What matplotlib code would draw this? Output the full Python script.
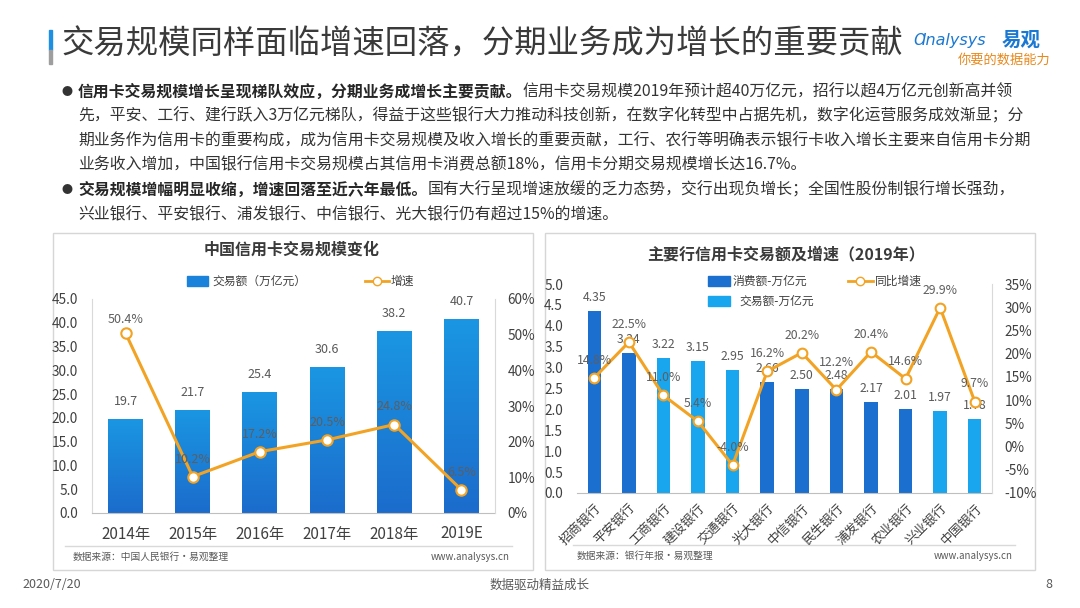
import matplotlib
matplotlib.use("Agg")
import matplotlib.pyplot as plt
import numpy as np
from matplotlib.patches import Rectangle
from matplotlib.lines import Line2D
from matplotlib.colors import LinearSegmentedColormap
from matplotlib.ticker import FuncFormatter

plt.rcParams['font.family'] = ['Noto Sans CJK SC', 'DejaVu Sans']

# ---------------- data ----------------
years = ['2014年', '2015年', '2016年', '2017年', '2018年', '2019E']
volume = [19.7, 21.7, 25.4, 30.6, 38.2, 40.7]          # 万亿元
growth = [50.4, 10.2, 17.2, 20.5, 24.8, 6.5]           # %

banks = ['招商银行', '平安银行', '工商银行', '建设银行', '交通银行', '光大银行',
         '中信银行', '民生银行', '浦发银行', '农业银行', '兴业银行', '中国银行']
amount = [4.35, 3.34, 3.22, 3.15, 2.95, 2.66, 2.50, 2.48, 2.17, 2.01, 1.97, 1.78]
amount_kind = ['消费额', '消费额', '交易额', '交易额', '交易额', '消费额',
               '消费额', '消费额', '消费额', '消费额', '交易额', '交易额']
yoy = [14.8, 22.5, 11.0, 5.4, -4.0, 16.2, 20.2, 12.2, 20.4, 14.6, 29.9, 9.7]

left_yticks = [0, 5, 10, 15, 20, 25, 30, 35, 40, 45]
left_y2ticks = [0, 10, 20, 30, 40, 50, 60]
right_yticks = [0, 0.5, 1.0, 1.5, 2.0, 2.5, 3.0, 3.5, 4.0, 4.5, 5.0]
right_y2ticks = [-10, -5, 0, 5, 10, 15, 20, 25, 30, 35]

# ---------------- style ----------------
W, H = 1080, 608
DARK = '#1B6FCF'
LIGHT = '#1AA6EE'
ORANGE = '#F2A324'
TXT = '#404040'
LBL = '#595959'
GRID = '#D9D9D9'


def fx(px):
    return px / W


def fy(py):
    return 1 - py / H


fig = plt.figure(figsize=(W / 100, H / 100), dpi=100)
fig.patch.set_facecolor('white')

# ---------------- panels (behind everything) ----------------
for (l, t_, r, b) in [(53, 233, 533, 570), (545, 233, 1035, 570)]:
    fig.patches.append(Rectangle((fx(l), fy(b)), fx(r - l), (b - t_) / H,
                                 transform=fig.transFigure, facecolor='none',
                                 edgecolor='#D6D6D6', lw=1.0, zorder=-10))

# ---------------- header ----------------
fig.patches.append(Rectangle((fx(49), fy(50)), fx(3), 20 / H, transform=fig.transFigure,
                             color='#1E8FE1', zorder=5))
fig.patches.append(Rectangle((fx(49), fy(64)), fx(3), 14 / H, transform=fig.transFigure,
                             color='#9E9E9E', zorder=5))
fig.text(fx(61), fy(45), '交易规模同样面临增速回落，分期业务成为增长的重要贡献',
         fontsize=23.3, color='#3A3A3A', va='center', ha='left')
fig.text(fx(914), fy(40), 'Ɑnalysys', fontsize=11.5, color='#1A78D2', style='italic',
         va='center', ha='left', family=['DejaVu Sans'])
fig.text(fx(1002), fy(40), '易观', fontsize=14, color='#1A78D2', fontweight='bold',
         va='center', ha='left')
fig.text(fx(958), fy(60), '你要的数据能力', fontsize=9.5, color='#E8891C', style='italic',
         va='center', ha='left')

# ---------------- body text ----------------
renderer = fig.canvas.get_renderer()
BODY_FS = 11.4
body_lines = [
    ('信用卡交易规模增长呈现梯队效应，分期业务成增长主要贡献。',
     '信用卡交易规模2019年预计超40万亿元，招行以超4万亿元创新高并领', True),
    ('', '先，平安、工行、建行跃入3万亿元梯队，得益于这些银行大力推动科技创新，在数字化转型中占据先机，数字化运营服务成效渐显；分', False),
    ('', '期业务作为信用卡的重要构成，成为信用卡交易规模及收入增长的重要贡献，工行、农行等明确表示银行卡收入增长主要来自信用卡分期', False),
    ('', '业务收入增加，中国银行信用卡交易规模占其信用卡消费总额18%，信用卡分期交易规模增长达16.7%。', False),
    ('交易规模增幅明显收缩，增速回落至近六年最低。',
     '国有大行呈现增速放缓的乏力态势，交行出现负增长；全国性股份制银行增长强劲，', True),
    ('', '兴业银行、平安银行、浦发银行、中信银行、光大银行仍有超过15%的增速。', False),
]
line_y = [92, 116, 141, 165, 190, 215]
for (bold, reg, bullet), py in zip(body_lines, line_y):
    x0 = 78
    if bullet:
        fig.text(fx(62), fy(py), '●', fontsize=8, color='#333333', va='center', ha='left')
    if bold:
        t = fig.text(fx(x0), fy(py), bold, fontsize=BODY_FS, color='#262626',
                     fontweight='bold', va='center', ha='left')
        bb = t.get_window_extent(renderer=renderer)
        x0 = bb.x1
    fig.text(fx(x0), fy(py), reg, fontsize=BODY_FS, color='#333333', va='center', ha='left')

# ---------------- left chart ----------------
axL = fig.add_axes([fx(92), fy(513), fx(495 - 92), (513 - 299) / H])
axL.set_facecolor('none')
xL = np.arange(len(years))
bars = axL.bar(xL, volume, width=0.52, color=DARK, zorder=2)
cmap = LinearSegmentedColormap.from_list('g', ['#1C6CCC', '#1A96E2'])
grad = np.linspace(0, 1, 100).reshape(-1, 1)
for b in bars:
    x, w, h = b.get_x(), b.get_width(), b.get_height()
    im = axL.imshow(grad, extent=[x, x + w, 0, h], origin='lower', aspect='auto',
                    cmap=cmap, zorder=2.5)
    im.set_clip_path(b)
axL.set_xlim(-0.5, len(years) - 0.5)
axL.set_ylim(0, 45)
axL.set_yticks(left_yticks)
axL.yaxis.set_major_formatter(FuncFormatter(lambda v, p: f'{v:.1f}'))
axL.set_xticks(xL)
axL.set_xticklabels(years, fontsize=11, color=TXT)
axL.tick_params(axis='y', length=0, pad=10, labelsize=9.8, labelcolor=TXT)
axL.tick_params(axis='x', length=0, pad=9)
for s in ['top', 'right']:
    axL.spines[s].set_visible(False)
axL.spines['left'].set_color(GRID)
axL.spines['bottom'].set_color('#BFBFBF')
for xi, v in zip(xL, volume):
    axL.annotate(f'{v:.1f}', (xi, v), xytext=(0, 8), textcoords='offset points',
                 ha='center', va='bottom', fontsize=9, color=LBL)

axL2 = axL.twinx()
axL2.set_ylim(0, 60)
axL2.set_yticks(left_y2ticks)
axL2.yaxis.set_major_formatter(FuncFormatter(lambda v, p: f'{v:.0f}%'))
axL2.tick_params(axis='y', length=0, pad=9, labelsize=9.8, labelcolor=TXT)
for s in ['top', 'left', 'bottom']:
    axL2.spines[s].set_visible(False)
axL2.spines['right'].set_color(GRID)
axL2.plot(xL, growth, color=ORANGE, lw=2.2, marker='o', markersize=7.5,
          markerfacecolor='white', markeredgecolor=ORANGE, markeredgewidth=1.5, zorder=4)
left_lbl_off = [5, 8, 8, 8, 8, 8]
for xi, g, off in zip(xL, growth, left_lbl_off):
    axL2.annotate(f'{g:.1f}%', (xi, g), xytext=(0, off), textcoords='offset points',
                  ha='center', va='bottom', fontsize=9, color='#5E5E5E', zorder=5)

fig.text(fx(292), fy(250), '中国信用卡交易规模变化', fontsize=11.5, fontweight='bold',
         color='#3A3A3A', ha='center', va='center')
fig.patches.append(Rectangle((fx(187), fy(286)), fx(21), 10 / H, transform=fig.transFigure,
                             color='#1A82DA'))
fig.text(fx(212), fy(281), '交易额（万亿元）', fontsize=8.5, color=TXT, va='center', ha='left')
fig.lines.append(Line2D([fx(365), fx(389)], [fy(281), fy(281)], transform=fig.transFigure,
                        color=ORANGE, lw=2, zorder=5))
fig.lines.append(Line2D([fx(377)], [fy(281)], transform=fig.transFigure, color=ORANGE,
                        marker='o', markersize=6, markerfacecolor='white',
                        markeredgecolor=ORANGE, zorder=6))
fig.text(fx(391), fy(281), '增速', fontsize=8.5, color=TXT, va='center', ha='left')
fig.lines.append(Line2D([fx(65), fx(512)], [fy(546), fy(546)], transform=fig.transFigure,
                        color='#D9D9D9', lw=1))
fig.text(fx(73), fy(557), '数据来源：中国人民银行·易观整理', fontsize=7, color=LBL,
         va='center', ha='left')
fig.text(fx(510), fy(557), 'www.analysys.cn', fontsize=7, color=LBL, va='center', ha='right')

# ---------------- right chart ----------------
axR = fig.add_axes([fx(577), fy(493), fx(992 - 577), (493 - 284) / H])
axR.set_facecolor('none')
xR = np.arange(len(banks))
colors = [DARK if k == '消费额' else LIGHT for k in amount_kind]
axR.bar(xR, amount, width=0.39, color=colors, zorder=2)
axR.set_xlim(-0.5, len(banks) - 0.5)
axR.set_ylim(0, 5)
axR.set_yticks(right_yticks)
axR.yaxis.set_major_formatter(FuncFormatter(lambda v, p: f'{v:.1f}'))
axR.set_xticks(xR)
axR.set_xticklabels(banks, rotation=45, ha='right', rotation_mode='anchor',
                    fontsize=9.3, color=TXT)
axR.tick_params(axis='y', length=0, pad=10, labelsize=9.8, labelcolor=TXT)
axR.tick_params(axis='x', length=0, pad=6)
for s in ['top', 'right', 'left']:
    axR.spines[s].set_visible(False)
axR.spines['bottom'].set_color('#BFBFBF')
for xi, v in zip(xR, amount):
    axR.annotate(f'{v:.2f}', (xi, v), xytext=(0, 5), textcoords='offset points',
                 ha='center', va='bottom', fontsize=8.8, color=LBL)

axR2 = axR.twinx()
axR2.set_ylim(-10, 35)
axR2.set_yticks(right_y2ticks)
axR2.yaxis.set_major_formatter(FuncFormatter(lambda v, p: f'{v:.0f}%'))
axR2.tick_params(axis='y', length=0, pad=9, labelsize=9.8, labelcolor=TXT)
for s in ['top', 'left', 'bottom']:
    axR2.spines[s].set_visible(False)
axR2.spines['right'].set_color(GRID)
axR2.plot(xR, yoy, color=ORANGE, lw=2.2, marker='o', markersize=7,
          markerfacecolor='white', markeredgecolor=ORANGE, markeredgewidth=1.5, zorder=4)
right_lbl_off = [8, 8, 8, 8, 8, 8, 8, 15, 8, 8, 8, 8]
for xi, g, off in zip(xR, yoy, right_lbl_off):
    axR2.annotate(f'{g:.1f}%', (xi, g), xytext=(0, off), textcoords='offset points',
                  ha='center', va='bottom', fontsize=8.8, color='#5E5E5E', zorder=5)

fig.text(fx(786), fy(254), '主要行信用卡交易额及增速（2019年）', fontsize=11.5,
         fontweight='bold', color='#3A3A3A', ha='center', va='center')
fig.patches.append(Rectangle((fx(708), fy(286)), fx(22), 10 / H, transform=fig.transFigure,
                             color=DARK))
fig.text(fx(733), fy(281), '消费额-万亿元', fontsize=8.5, color=TXT, va='center', ha='left')
fig.patches.append(Rectangle((fx(708), fy(306)), fx(22), 10 / H, transform=fig.transFigure,
                             color=LIGHT))
fig.text(fx(739), fy(301), '交易额-万亿元', fontsize=8.5, color=TXT, va='center', ha='left')
fig.lines.append(Line2D([fx(848), fx(873)], [fy(281), fy(281)], transform=fig.transFigure,
                        color=ORANGE, lw=2, zorder=5))
fig.lines.append(Line2D([fx(860)], [fy(281)], transform=fig.transFigure, color=ORANGE,
                        marker='o', markersize=6, markerfacecolor='white',
                        markeredgecolor=ORANGE, zorder=6))
fig.text(fx(875), fy(281), '同比增速', fontsize=8.5, color=TXT, va='center', ha='left')
fig.lines.append(Line2D([fx(573), fx(1015)], [fy(545), fy(545)], transform=fig.transFigure,
                        color='#D9D9D9', lw=1))
fig.text(fx(577), fy(556), '数据来源：银行年报·易观整理', fontsize=7, color=LBL,
         va='center', ha='left')
fig.text(fx(1013), fy(556), 'www.analysys.cn', fontsize=7, color=LBL, va='center', ha='right')

# ---------------- footer ----------------
fig.text(fx(22), fy(585), '2020/7/20', fontsize=9, color=LBL, va='center', ha='left')
fig.text(fx(540), fy(585), '数据驱动精益成长', fontsize=9, color=LBL, va='center', ha='center')
fig.text(fx(1052), fy(585), '8', fontsize=9, color=LBL, va='center', ha='right')

fig.savefig('out.png', dpi=100, facecolor='white')
